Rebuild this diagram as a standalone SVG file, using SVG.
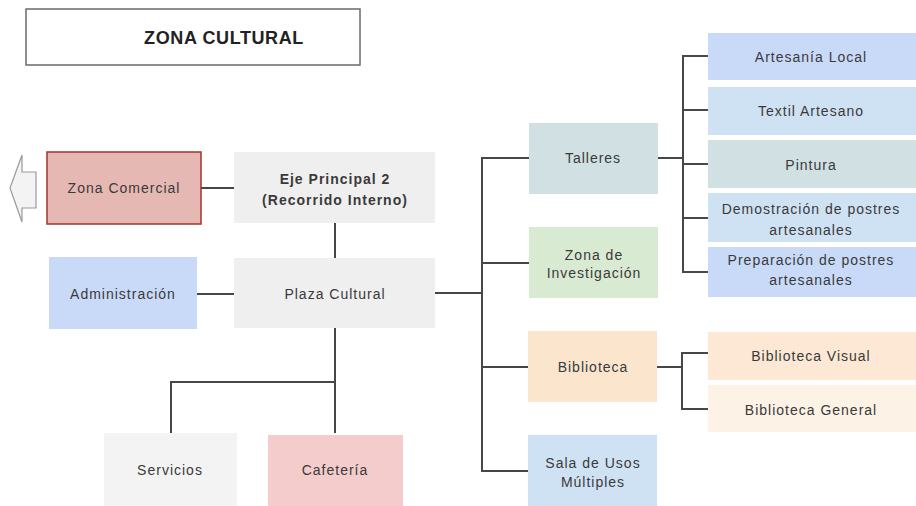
<svg xmlns="http://www.w3.org/2000/svg" width="916" height="506" viewBox="0 0 916 506">
<style>
text{font-family:"Liberation Sans",Arial,sans-serif;font-size:14px;letter-spacing:1px;fill:#3a3a3a;text-anchor:middle}
.b{font-weight:bold}
.t{font-size:18px;letter-spacing:0.6px;font-weight:bold;fill:#222}
.c{fill:none;stroke:#474747;stroke-width:2}
</style>
<rect width="916" height="506" fill="#fff"/>
<g id="title">
<rect x="26" y="9" width="334" height="56" fill="#fff" stroke="#6a6a6a" stroke-width="1.5"/>
<text class="t" x="224" y="44">ZONA CULTURAL</text>
</g>
<g id="connectors">
<path class="c" d="M201 188H235"/>
<path class="c" d="M335 223V258"/>
<path class="c" d="M197 294H234"/>
<path class="c" d="M435 293H482"/>
<path class="c" d="M529 158H482V471H529"/>
<path class="c" d="M482 263H529"/>
<path class="c" d="M482 367H528"/>
<path class="c" d="M658 158H683"/>
<path class="c" d="M708 56H683V272H708"/>
<path class="c" d="M683 110H708M683 164H708M683 218H708"/>
<path class="c" d="M657 367H682"/>
<path class="c" d="M708 353H682V409H708"/>
<path class="c" d="M335 328V433"/>
<path class="c" d="M335 382H171V433"/>
</g>
<g id="arrow-left">
<path d="M36 172H22V155L10 188L22 222V208H36Z" fill="#f3f3f3" stroke="#9a9a9a" stroke-width="1.2"/>
</g>
<g id="zona-comercial">
<rect x="47" y="152" width="154" height="72" fill="#e6b8b3" stroke="#a8312b" stroke-width="1.5"/>
<text x="124" y="193">Zona Comercial</text>
</g>
<g id="eje-principal">
<rect x="234" y="152" width="201" height="71" fill="#efefef"/>
<text class="b" x="335" y="184">Eje Principal 2</text>
<text class="b" x="335" y="205">(Recorrido Interno)</text>
</g>
<g id="plaza-cultural">
<rect x="234" y="258" width="201" height="70" fill="#efefef"/>
<text x="335" y="299">Plaza Cultural</text>
</g>
<g id="administracion">
<rect x="49" y="257" width="148" height="72" fill="#c9daf8"/>
<text x="123" y="299">Administración</text>
</g>
<g id="talleres">
<rect x="529" y="123" width="129" height="71" fill="#d0e0e3"/>
<text x="593" y="163">Talleres</text>
</g>
<g id="zona-investigacion">
<rect x="529" y="227" width="129" height="71" fill="#d9ead3"/>
<text x="594" y="260">Zona de</text>
<text x="594" y="278">Investigación</text>
</g>
<g id="biblioteca">
<rect x="528" y="331" width="129" height="71" fill="#fce5cd"/>
<text x="593" y="372">Biblioteca</text>
</g>
<g id="sala-usos-multiples">
<rect x="528" y="435" width="129" height="71" fill="#cfe2f3"/>
<text x="593" y="468">Sala de Usos</text>
<text x="593" y="487">Múltiples</text>
</g>
<g id="artesania-local">
<rect x="708" y="33" width="208" height="47" fill="#c9daf8"/>
<text x="811" y="62">Artesanía Local</text>
</g>
<g id="textil-artesano">
<rect x="708" y="87" width="208" height="48" fill="#cfe2f3"/>
<text x="811" y="116">Textil Artesano</text>
</g>
<g id="pintura">
<rect x="708" y="140" width="208" height="48" fill="#d0e0e3"/>
<text x="811" y="170">Pintura</text>
</g>
<g id="demostracion">
<rect x="708" y="193" width="208" height="49" fill="#cfe2f3"/>
<text x="811" y="214">Demostración de postres</text>
<text x="811" y="235">artesanales</text>
</g>
<g id="preparacion">
<rect x="708" y="247" width="208" height="50" fill="#c9daf8"/>
<text x="811" y="265">Preparación de postres</text>
<text x="811" y="285">artesanales</text>
</g>
<g id="biblioteca-visual">
<rect x="708" y="332" width="208" height="48" fill="#fce8d4"/>
<text x="811" y="361">Biblioteca Visual</text>
</g>
<g id="biblioteca-general">
<rect x="708" y="385" width="208" height="47" fill="#fdf2e6"/>
<text x="811" y="415">Biblioteca General</text>
</g>
<g id="servicios">
<rect x="104" y="433" width="133" height="73" fill="#f3f3f3"/>
<text x="170" y="475">Servicios</text>
</g>
<g id="cafeteria">
<rect x="268" y="435" width="135" height="71" fill="#f4cccc"/>
<text x="335" y="475">Cafetería</text>
</g>
</svg>
